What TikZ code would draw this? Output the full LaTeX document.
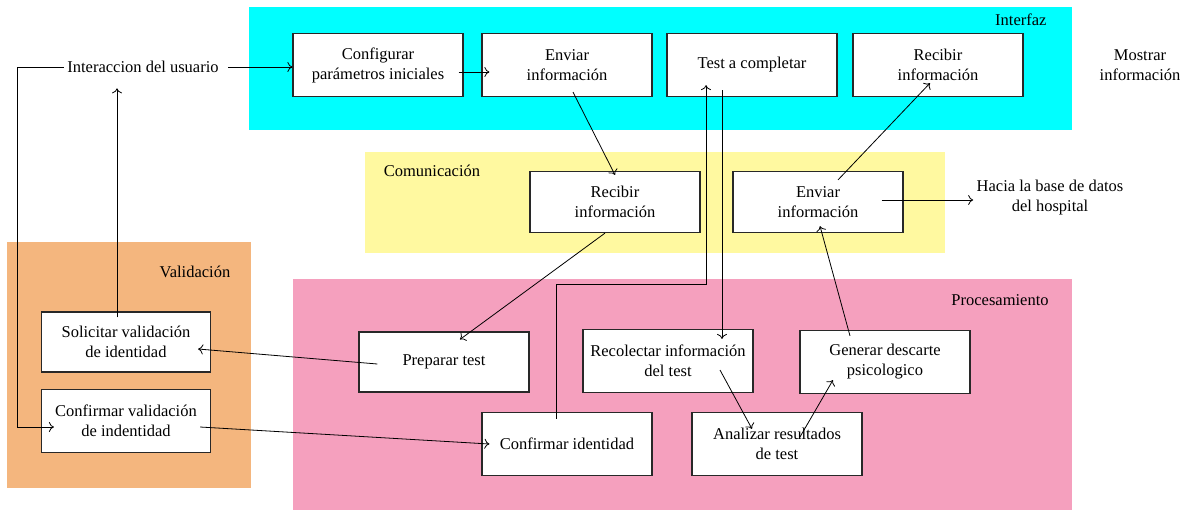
\documentclass[tikz,border=0pt]{standalone}
\usepackage{fontspec}
\setmainfont{Liberation Serif}
\newfontfamily\tnr{Liberation Serif}
\usetikzlibrary{arrows.meta}

\definecolor{interfazC}{RGB}{0,255,255}
\definecolor{comunicaC}{RGB}{255,249,160}
\definecolor{validaC}{RGB}{244,182,126}
\definecolor{procesaC}{RGB}{245,160,190}
\definecolor{bordeC}{RGB}{40,40,40}

\begin{document}
\begin{tikzpicture}[x=1pt,y=-1pt,
  every node/.style={font=\tnr\fontsize{16.5}{20}\selectfont},
  caja/.style={draw=bordeC,fill=white,line width=1.2pt,minimum width=170pt,minimum height=63pt,align=center,inner sep=2pt},
  texto/.style={align=center},
  flecha/.style={-{To[length=5pt,width=10pt]},line width=0.8pt}]
\useasboundingbox (0,0) rectangle (1198,520);
% zonas
\fill[interfazC] (249,7) rectangle (1072,130);
\fill[comunicaC] (365,152) rectangle (945,253);
\fill[validaC] (7,242) rectangle (251,488);
\fill[procesaC] (293,279) rectangle (1072,510);
\node[anchor=east] (lInterfaz) at (1050,20) {Interfaz};
\node (lComunica) at (432,171) {Comunicación};
\node (lValida) at (195,272) {Validación};
\node (lProcesa) at (1000,300) {Procesamiento};
% interfaz
\node[caja] (conf) at (378,65) {Configurar\\parámetros iniciales};
\node[caja] (envI) at (567,65) {Enviar\\información};
\node[caja] (test) at (752,65) {Test a completar};
\node[caja] (recI) at (938,65) {Recibir\\información};
% comunicacion
\node[caja,minimum height=61pt] (recC) at (615,202) {Recibir\\información};
\node[caja,minimum height=61pt] (envC) at (818,202) {Enviar\\información};
% validacion
\node[caja,minimum width=169pt,minimum height=60pt] (solic) at (126,342) {Solicitar validación\\de identidad};
\node[caja,minimum width=169pt] (confV) at (126,421) {Confirmar validación\\de indentidad};
% procesamiento
\node[caja,minimum height=60pt] (prep) at (444,362) {Preparar test};
\node[caja] (recol) at (668,361) {Recolectar información\\del test};
\node[caja] (gener) at (885,362) {Generar descarte\\psicologico};
\node[caja] (confId) at (567,444) {Confirmar identidad};
\node[caja] (anali) at (777,444) {Analizar resultados\\de test};
% fuera
\node[texto] (usr) at (143,67) {Interaccion del usuario};
\node[texto] (mostrar) at (1140,65) {Mostrar\\información};
\node[texto] (hacia) at (1050,198) {Hacia la base de datos\\del hospital};

\draw[flecha] ([xshift=6pt]usr.east) -- (usr.east -| conf.west);
\draw[flecha] ([xshift=-5pt,yshift=-7pt]conf.east) -- ([xshift=8pt,yshift=-7pt]envI.west);
\draw[flecha] ([xshift=6pt,yshift=5pt]envI.south) -- ([yshift=-4pt]recC.north);
\draw[flecha] ([xshift=20pt,yshift=-9pt]envC.north) -- ([xshift=-8pt,yshift=14pt]recI.south);
\draw[flecha] ([xshift=-22pt,yshift=2pt]envC.east) -- ([yshift=2pt]envC.east -| hacia.west);
\draw[flecha] ([xshift=-10pt]recC.south) -- ([xshift=16pt,yshift=-8pt]prep.north);
\draw[flecha] ([xshift=19pt,yshift=-2pt]prep.west) -- ([xshift=-13pt,yshift=-7pt]solic.east);
\draw[flecha,shorten >=12pt] ([xshift=-9pt,yshift=-6pt]solic.north) -- ([xshift=-9pt]solic.north |- usr.south);
\draw[flecha] (usr.west) -- ++(-46,0) |- ([xshift=13pt,yshift=-6pt]confV.west);
\draw[flecha] ([xshift=-11pt,yshift=-6pt]confV.east) -- ([xshift=8pt]confId.west);
\draw[flecha] ([xshift=-11pt,yshift=-7pt]confId.north) -- ++(0,-135) -| ([xshift=-46pt,yshift=12pt]test.south);
\draw[flecha,shorten >=-10pt] ([xshift=-30pt,yshift=7pt]test.south) coordinate (t) -- (t |- recol.north);
\draw[flecha] ([xshift=52pt,yshift=-9pt]recol.center) -- ([xshift=-25pt,yshift=-17pt]anali.north);
\draw[flecha] ([xshift=23pt,yshift=-25pt]anali.north) -- ([xshift=-52pt,yshift=-18pt]gener.center);
\draw[flecha] ([xshift=-35pt,yshift=-6pt]gener.north) -- ([xshift=2pt,yshift=7pt]envC.south);
\end{tikzpicture}
\end{document}
